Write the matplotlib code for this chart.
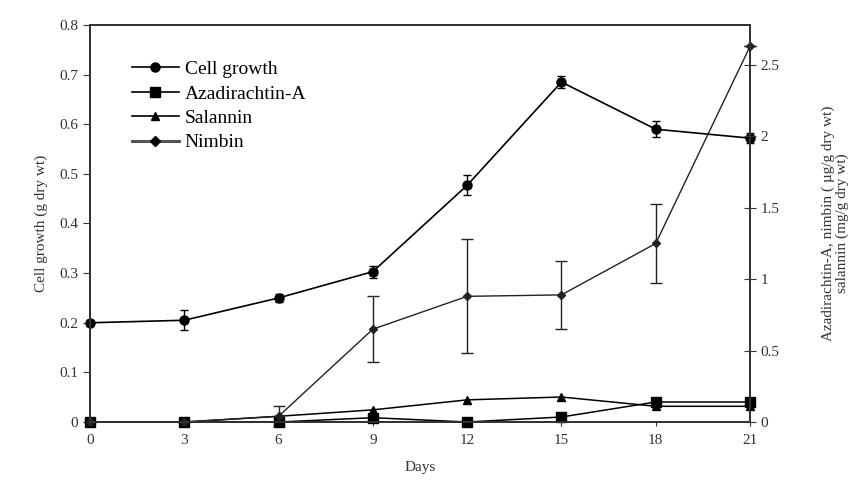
import numpy as np
import matplotlib
matplotlib.use('Agg')
import matplotlib.pyplot as plt
from matplotlib.lines import Line2D

plt.rcParams['font.family'] = ['Liberation Serif', 'DejaVu Serif']

days = [0, 3, 6, 9, 12, 15, 18, 21]

# left axis (g dry wt)
cell_growth = [0.20, 0.205, 0.25, 0.303, 0.477, 0.685, 0.590, 0.572]
cell_err = [0.005, 0.02, 0.008, 0.012, 0.02, 0.012, 0.016, 0.01]

# right axis
azadirachtin = [0.0, 0.0, 0.0, 0.03, 0.0, 0.035, 0.14, 0.14]
salannin = [0.0, 0.0, 0.04, 0.085, 0.155, 0.175, 0.11, 0.11]
nimbin = [0.0, 0.0, 0.04, 0.65, 0.88, 0.89, 1.25, 2.63]
nimbin_err = [0.0, 0.0, 0.07, 0.23, 0.40, 0.24, 0.28, 0.0]

fig = plt.figure(figsize=(8.59, 4.99), dpi=100)
ax1 = fig.add_axes([90/859, 77/499, 660/859, 397/499])
ax2 = ax1.twinx()

eb = ax1.errorbar(days, cell_growth, yerr=cell_err, color='black', lw=1.2,
                  marker='o', ms=6.5, capsize=3, elinewidth=1)
eb2 = [
    ax2.errorbar(days, azadirachtin, color='black', lw=1.1, marker='s', ms=6.5),
    ax2.errorbar(days, salannin, color='black', lw=1.1, marker='^', ms=5.5),
    ax2.errorbar(days, nimbin, yerr=nimbin_err, color='#222222', lw=1.0, marker='D',
                 ms=4.5, capsize=4, elinewidth=1),
]
for c in [eb] + eb2:
    for art in c.lines[0:1] + tuple(c.lines[1]) + tuple(c.lines[2]):
        art.set_clip_on(False)

ax1.set_xlim(0, 21)
ax1.set_ylim(0, 0.8)
ax2.set_ylim(0, 2.78)
ax1.set_xticks(days)
ax1.set_yticks(np.arange(0, 0.81, 0.1))
ax1.set_yticklabels(['0'] + ['%.1f' % v for v in np.arange(0.1, 0.81, 0.1)])
ax2.set_yticks([0, 0.5, 1, 1.5, 2, 2.5])
ax2.set_yticklabels(['0', '0.5', '1', '1.5', '2', '2.5'])

ax1.tick_params(axis='both', labelsize=11, color='#333333', labelcolor='#333333')
ax1.tick_params(axis='x', direction='out', length=3, pad=6)
ax1.tick_params(axis='y', direction='out', length=5)
ax2.tick_params(axis='y', direction='inout', length=8, labelsize=11,
                color='#333333', labelcolor='#333333')

for sp in list(ax1.spines.values()) + list(ax2.spines.values()):
    sp.set_linewidth(1.3)
    sp.set_color('#333333')

ax1.set_xlabel('Days', fontsize=11, color='#333333', labelpad=10)
ax1.set_ylabel('Cell growth (g dry wt)', fontsize=11, color='#333333', labelpad=8)
ax2.set_ylabel('Azadirachtin-A, nimbin ( µg/g dry wt)\nsalannin (mg/g dry wt)',
               fontsize=11, color='#333333', labelpad=30, linespacing=1.1)

handles = [
    Line2D([], [], color='black', lw=1.2, marker='o', ms=6.5),
    Line2D([], [], color='black', lw=1.2, marker='s', ms=6.5),
    Line2D([], [], color='black', lw=1.2, marker='^', ms=5.5),
    Line2D([], [], color='#555555', lw=2.2, marker='D', ms=5, mfc='black', mec='black'),
]
labels = ['Cell growth', 'Azadirachtin-A', 'Salannin', 'Nimbin']
ax2.legend(handles, labels, loc='upper left', bbox_to_anchor=(0.052, 0.93),
           frameon=False, fontsize=14, handlelength=2.4, labelspacing=0.35,
           handletextpad=0.3, borderaxespad=0)

fig.savefig('out.png', dpi=100)
